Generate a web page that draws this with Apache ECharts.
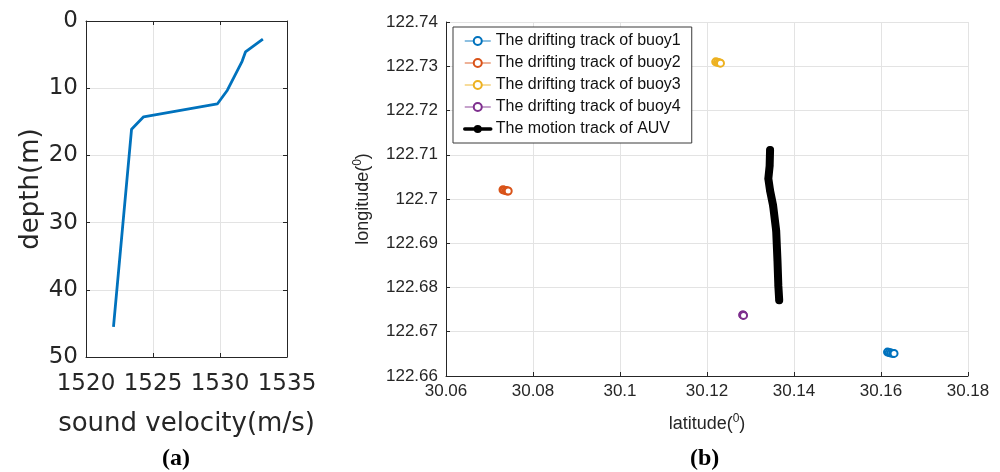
<!DOCTYPE html>
<html>
<head>
<meta charset="utf-8">
<script src="https://cdn.jsdelivr.net/npm/echarts@6/dist/echarts.min.js"></script>
<style>
  html, body { margin: 0; padding: 0; background: #fff; }
  #chart { width: 1000px; height: 472px; }
</style>
</head>
<body>
<div id="chart"></div>
<script>
// (a) sound velocity profile: [velocity m/s, depth m]
const profileVelocity = [1533.2, 1531.9, 1531.65, 1530.55, 1529.8, 1524.3, 1523.4, 1522.05];
const profileDepth    = [2.7, 4.6, 6.0, 10.3, 12.35, 14.25, 16.1, 45.5];

// (b) positions as [latitude, longitude]
const buoy1Track = [[30.1615, 122.6654], [30.1619, 122.6653], [30.1623, 122.6652], [30.1627, 122.6651], [30.1630, 122.6651]];
const buoy2Track = [[30.0731, 122.7021], [30.0734, 122.7020], [30.0738, 122.7019], [30.0741, 122.7018], [30.0743, 122.7018]];
const buoy3Track = [[30.1220, 122.7310], [30.1224, 122.7309], [30.1228, 122.7308], [30.1231, 122.7307]];
const buoy4Track = [[30.1282, 122.6738], [30.1283, 122.6738], [30.1284, 122.6737]];
const auvLat = [30.1345, 30.1344, 30.1341, 30.1345, 30.1352, 30.1359, 30.1362, 30.1364, 30.1366];
const auvLon = [122.7111, 122.7075, 122.7046, 122.7019, 122.6985, 122.6929, 122.6861, 122.6804, 122.6771];

const seriesNames = [
  'The drifting track of buoy1',
  'The drifting track of buoy2',
  'The drifting track of buoy3',
  'The drifting track of buoy4',
  'The motion track of AUV'
];
const seriesColors = ['#0072BD', '#D95319', '#EDB120', '#7E2F8E', '#000000'];

const TXT = '#262626';
const GRIDC = '#e3e3e3';
const round2 = v => String(+(+v).toFixed(2));

const profileData = profileVelocity.map((v, i) => [v, profileDepth[i]]);
const auvData = auvLat.map((la, i) => [la, auvLon[i]]);

function leftAxisStyle(extra) {
  return Object.assign({
    axisLine: { show: true, onZero: false, lineStyle: { color: TXT, width: 1 } },
    axisTick: { show: true, inside: true, length: 4, lineStyle: { color: TXT } },
    splitLine: { show: false }
  }, extra);
}

const chart = echarts.init(document.getElementById('chart'), null, { renderer: 'canvas' });

const buoyTracks = [buoy1Track, buoy2Track, buoy3Track, buoy4Track];

const option = {
  animation: false,
  backgroundColor: '#fff',
  grid: [
    { left: 86, top: 21, width: 201, height: 336, containLabel: false },
    { left: 446, top: 22, width: 522, height: 354, containLabel: false }
  ],
  xAxis: [
    leftAxisStyle({
      type: 'value', gridIndex: 0, min: 1520, max: 1535, interval: 5, position: 'bottom',
      name: 'sound velocity(m/s)', nameLocation: 'middle', nameGap: 54,
      nameTextStyle: { fontFamily: 'DejaVu Sans', fontSize: 26, color: TXT },
      axisLabel: { fontFamily: 'DejaVu Sans', fontSize: 23, color: TXT, margin: 16, formatter: v => String(v) },
      splitLine: { show: true, lineStyle: { color: GRIDC, width: 1 } }
    }),
    leftAxisStyle({
      type: 'value', gridIndex: 0, min: 1520, max: 1535, interval: 5, position: 'top',
      axisLabel: { show: false }
    }),
    {
      type: 'value', gridIndex: 1, min: 30.06, max: 30.18, interval: 0.02,
      name: 'latitude({sup|0})', nameLocation: 'middle', nameGap: 37,
      nameTextStyle: {
        fontFamily: 'Liberation Sans', fontSize: 18, color: TXT,
        rich: { sup: { fontFamily: 'Liberation Sans', fontSize: 12, color: TXT, verticalAlign: 'top', padding: [0, 0, 10, 0] } }
      },
      axisLine: { show: true, onZero: false, lineStyle: { color: TXT, width: 1 } },
      axisTick: { show: true, inside: true, length: 4, lineStyle: { color: TXT } },
      axisLabel: { fontFamily: 'Liberation Sans', fontSize: 17, color: TXT, margin: 7, formatter: round2 },
      splitLine: { show: true, lineStyle: { color: GRIDC, width: 1 } }
    }
  ],
  yAxis: [
    leftAxisStyle({
      type: 'value', gridIndex: 0, min: 0, max: 50, interval: 10, inverse: true, position: 'left',
      name: 'depth(m)', nameLocation: 'middle', nameGap: 42, nameRotate: 90,
      nameTextStyle: { fontFamily: 'DejaVu Sans', fontSize: 26, color: TXT },
      axisLabel: { fontFamily: 'DejaVu Sans', fontSize: 23, color: TXT, margin: 8 },
      splitLine: { show: true, lineStyle: { color: GRIDC, width: 1 } }
    }),
    leftAxisStyle({
      type: 'value', gridIndex: 0, min: 0, max: 50, interval: 10, inverse: true, position: 'right',
      axisLabel: { show: false }
    }),
    {
      type: 'value', gridIndex: 1, min: 122.66, max: 122.74, interval: 0.01,
      name: 'longitude({sup|0})', nameLocation: 'middle', nameGap: 72, nameRotate: 90,
      nameTextStyle: {
        fontFamily: 'Liberation Sans', fontSize: 18, color: TXT,
        rich: { sup: { fontFamily: 'Liberation Sans', fontSize: 12, color: TXT, verticalAlign: 'top', padding: [0, 0, 10, 0] } }
      },
      axisLine: { show: true, onZero: false, lineStyle: { color: TXT, width: 1 } },
      axisTick: { show: true, inside: true, length: 4, lineStyle: { color: TXT } },
      axisLabel: { fontFamily: 'Liberation Sans', fontSize: 17, color: TXT, margin: 8, formatter: round2 },
      splitLine: { show: true, lineStyle: { color: GRIDC, width: 1 } }
    }
  ],
  legend: {
    orient: 'vertical',
    left: 453, top: 27,
    itemWidth: 26, itemHeight: 10, itemGap: 6,
    padding: [6, 11, 6, 10],
    backgroundColor: '#fff',
    borderColor: '#3a3a3a', borderWidth: 1,
    textStyle: { fontFamily: 'Liberation Sans', fontSize: 16, color: '#111', lineHeight: 16 },
    data: seriesNames.map((n, i) => i < 4
      ? { name: n, lineStyle: { opacity: 0.6, width: 1.5 },
          itemStyle: { borderWidth: 1.2 } }
      : { name: n, lineStyle: { width: 3.5 } })
  },
  series: [
    {
      type: 'line', xAxisIndex: 0, yAxisIndex: 0, data: profileData,
      showSymbol: false, symbol: 'none',
      lineStyle: { color: '#0072BD', width: 2.8 }, silent: true
    },
    ...buoyTracks.map((track, i) => ({
      name: seriesNames[i], type: 'line', xAxisIndex: 2, yAxisIndex: 2,
      data: track, symbol: 'emptyCircle', symbolSize: 7, showAllSymbol: true,
      itemStyle: { color: seriesColors[i], borderColor: seriesColors[i], borderWidth: 3.5 },
      lineStyle: { color: seriesColors[i], width: 1.5 },
      z: 3
    })),
    {
      name: seriesNames[4], type: 'line', xAxisIndex: 2, yAxisIndex: 2,
      data: auvData, symbol: 'circle', symbolSize: 7, showAllSymbol: true,
      itemStyle: { color: '#000' },
      lineStyle: { color: '#000', width: 8, cap: 'round', join: 'round' },
      z: 4
    }
  ],
  graphic: [
    { type: 'text', left: 162, top: 447, style: { text: '(a)', fontFamily: 'Liberation Serif', fontWeight: 'bold', fontSize: 24, fill: '#000', textAlign: 'center' } },
    { type: 'text', left: 690, top: 447, style: { text: '(b)', fontFamily: 'Liberation Serif', fontWeight: 'bold', fontSize: 24, fill: '#000', textAlign: 'center' } }
  ]
};

chart.setOption(option);
</script>
</body>
</html>
